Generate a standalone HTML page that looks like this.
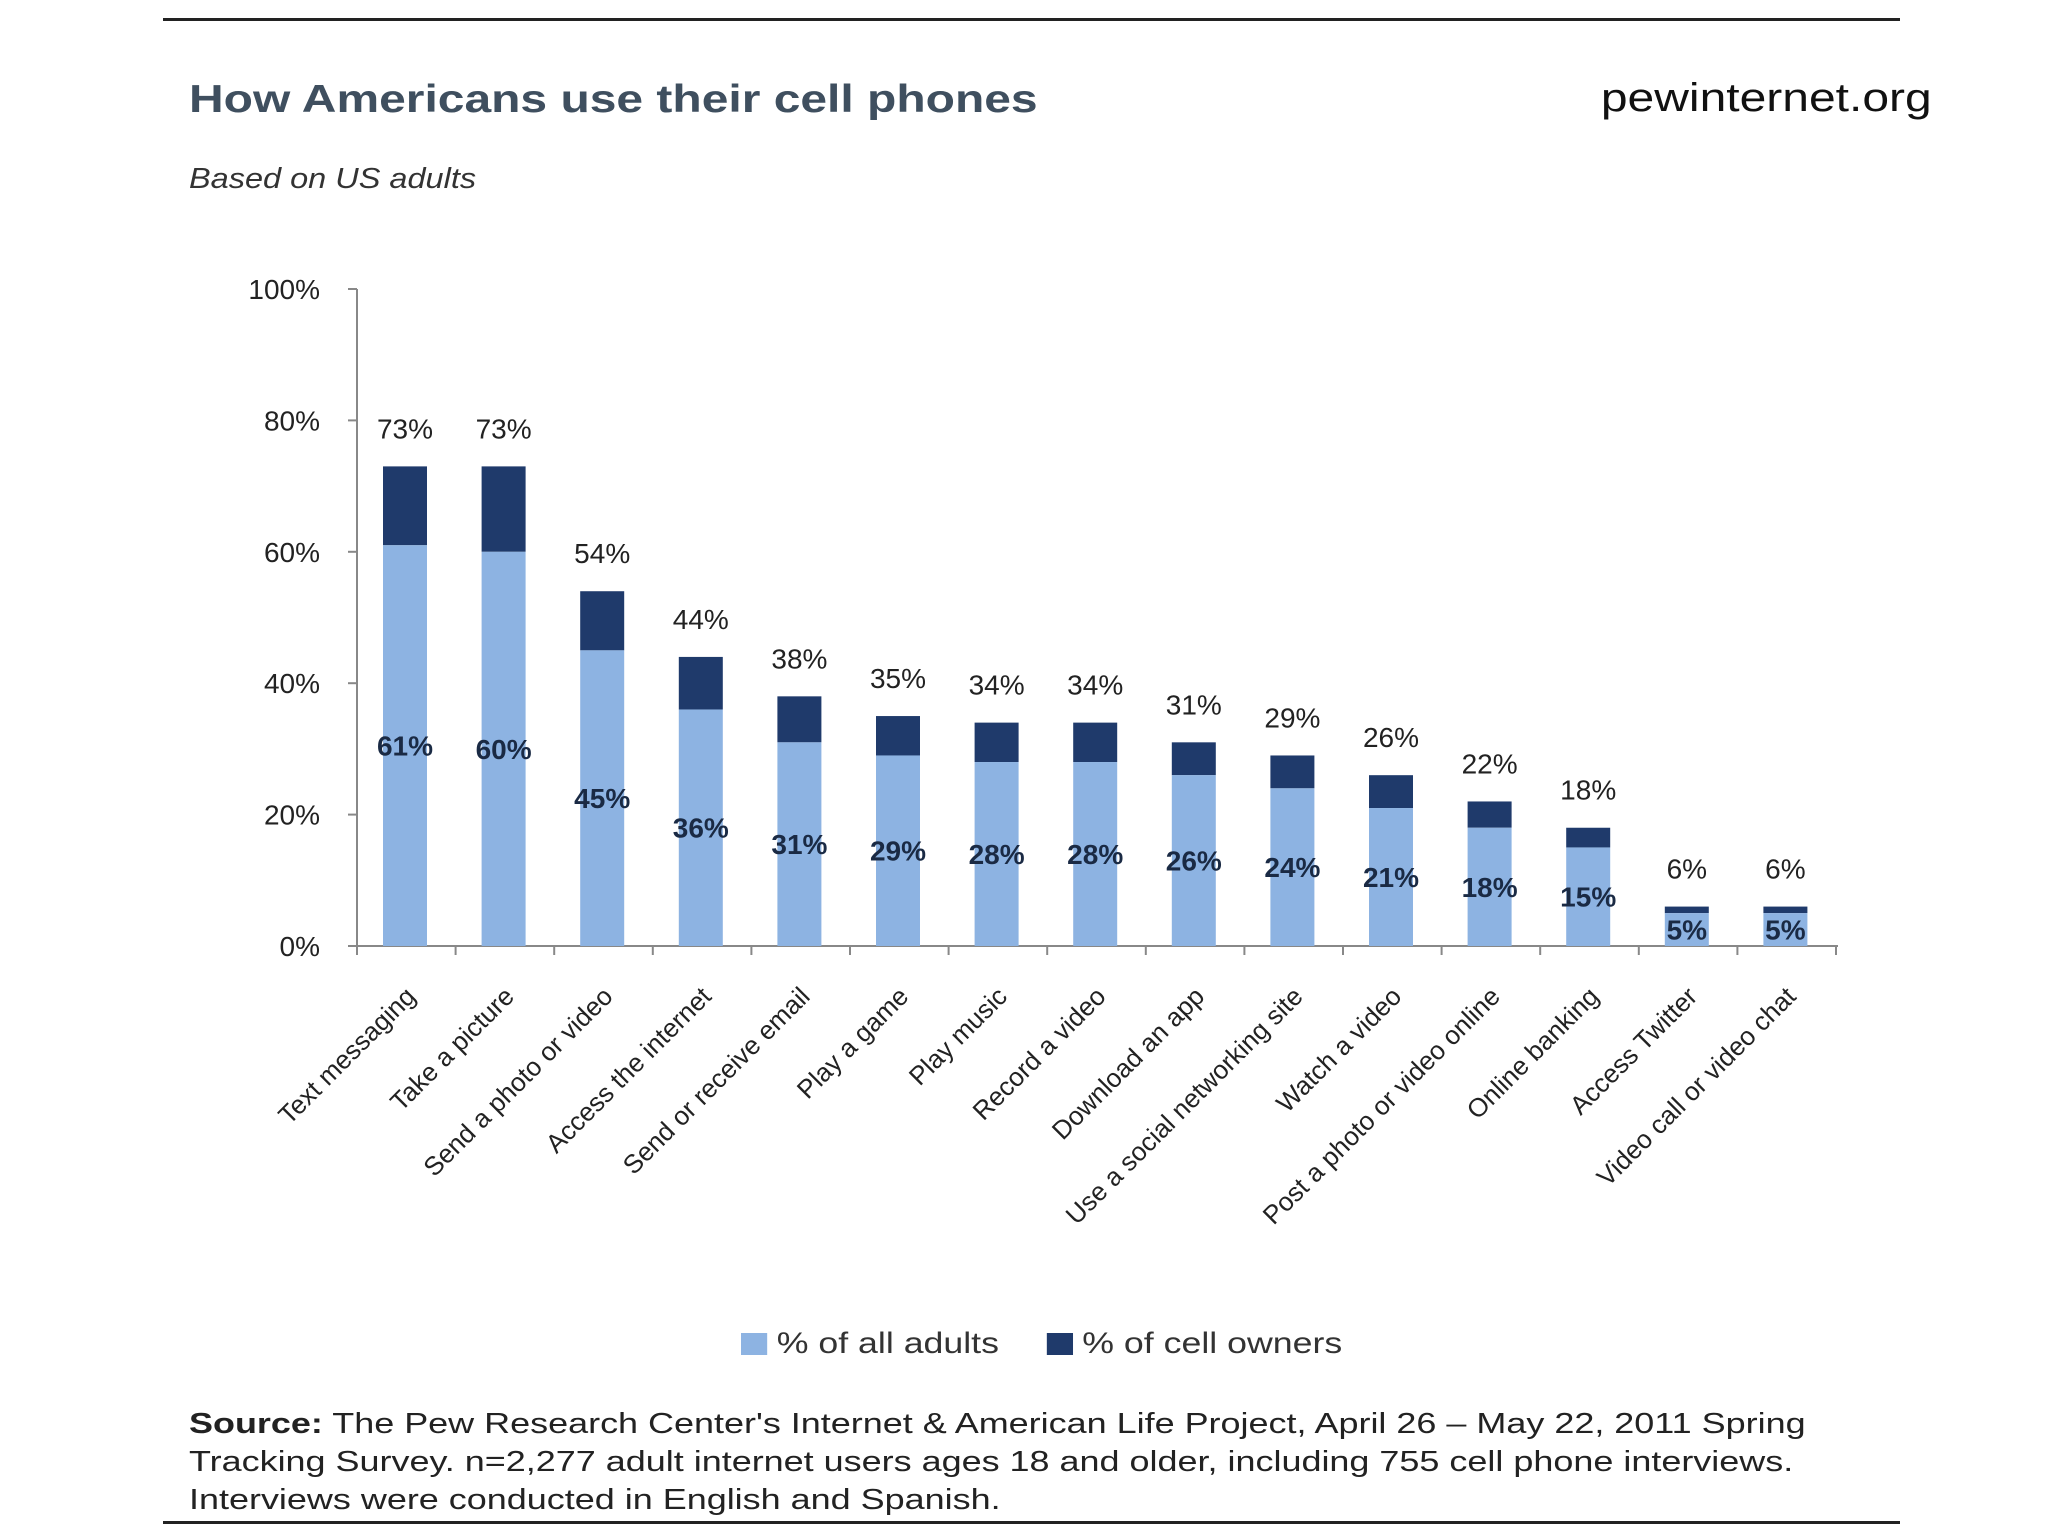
<!DOCTYPE html>
<html><head><meta charset="utf-8">
<style>
html,body{margin:0;padding:0;background:#fff;}
body{width:2048px;height:1536px;position:relative;overflow:hidden;font-family:"Liberation Sans",sans-serif;}
.t{position:absolute;white-space:nowrap;}
</style></head>
<body>
<div style="position:absolute;left:163px;top:18px;width:1737px;height:3px;background:#222"></div>
<div class="t" style="left:189px;top:78px;font-size:39px;font-weight:bold;color:#3f4f5f;transform:scaleX(1.23);transform-origin:left top">How Americans use their cell phones</div>
<div class="t" style="right:116px;top:76px;font-size:40px;color:#111;transform:scaleX(1.2);transform-origin:right top">pewinternet.org</div>
<div class="t" style="left:189px;top:163px;font-size:29px;font-style:italic;color:#333;transform:scaleX(1.12);transform-origin:left top">Based on US adults</div>
<svg id="chart" width="2048" height="1536" style="position:absolute;left:0;top:0" font-family="Liberation Sans, sans-serif"></svg>
<div style="position:absolute;left:741px;top:1327px;font-size:30px;color:#333;display:flex;align-items:center;transform:scaleX(1.19);transform-origin:left top">
 <span style="width:22px;height:22px;background:#8db3e2;display:inline-block;margin-right:8px"></span>
 <span style="margin-right:40px">% of all adults</span>
 <span style="width:22px;height:22px;background:#1f3a6b;display:inline-block;margin-right:8px"></span>
 <span>% of cell owners</span>
</div>
<div style="position:absolute;left:189px;top:1405px;font-size:29px;line-height:38px;color:#222;white-space:nowrap;transform:scaleX(1.24);transform-origin:left top">
<b>Source:</b> The Pew Research Center's Internet &amp; American Life Project, April 26 – May 22, 2011 Spring<br>Tracking Survey. n=2,277 adult internet users ages 18 and older, including 755 cell phone interviews.<br>Interviews were conducted in English and Spanish.</div>
<div style="position:absolute;left:163px;top:1521px;width:1737px;height:3px;background:#222"></div>
<script>
const categories=["Text messaging","Take a picture","Send a photo or video","Access the internet","Send or receive email","Play a game","Play music","Record a video","Download an app","Use a social networking site","Watch a video","Post a photo or video online","Online banking","Access Twitter","Video call or video chat"];
const adults=[61,60,45,36,31,29,28,28,26,24,21,18,15,5,5];
const owners=[73,73,54,44,38,35,34,34,31,29,26,22,18,6,6];
const yTicks=[0,20,40,60,80,100];
const svg=document.getElementById('chart');
const NS='http://www.w3.org/2000/svg';
const x0=357,x1=1838,yBase=946,yTop=289,step=98.6,first=405,bw=44;
const y=v=>yBase-(yBase-yTop)*v/100;
const xc=i=>first+i*step;
function mk(t,a,p){const e=document.createElementNS(NS,t);for(const k in a)e.setAttribute(k,a[k]);(p||svg).appendChild(e);return e;}
let e=mk('line',{x1:x0,y1:yTop,x2:x0,y2:yBase,stroke:'#888','stroke-width':2});


e=mk('line',{x1:x0,y1:yBase,x2:x1,y2:yBase,stroke:'#888','stroke-width':2});


yTicks.forEach(v=>{
 mk('line',{x1:x0-9,y1:y(v),x2:x0,y2:y(v),stroke:'#888','stroke-width':2});
 e=mk('text',{x:320,y:y(v)+10,'text-anchor':'end','font-size':28,fill:'#222'});e.textContent=v+'%';
 
 
});
for(let i=0;i<=categories.length;i++){mk('line',{x1:x0+i*step,y1:yBase,x2:x0+i*step,y2:yBase+9,stroke:'#888','stroke-width':2});}
categories.forEach((c,i)=>{
 const cx=xc(i);
 e=mk('rect',{x:cx-bw/2,y:y(owners[i]),width:bw,height:y(adults[i])-y(owners[i]),fill:'#1f3a6b'});
 
 
 e=mk('rect',{x:cx-bw/2,y:y(adults[i]),width:bw,height:yBase-y(adults[i]),fill:'#8db3e2'});
 
 
 e=mk('text',{x:cx,y:y(owners[i])-28,'text-anchor':'middle','font-size':28,fill:'#222'});e.textContent=owners[i]+'%';
 
 
 e=mk('text',{x:cx,y:(y(adults[i])+yBase)/2+10,'text-anchor':'middle','font-size':28,'font-weight':'bold',fill:'#1a2a44'});e.textContent=adults[i]+'%';
 
 
 e=mk('text',{x:0,y:0,'text-anchor':'end','font-size':26,fill:'#222',transform:`translate(${cx+12},${yBase+52}) rotate(-45)`});e.textContent=c;
 
 
});
</script>
</body></html>
